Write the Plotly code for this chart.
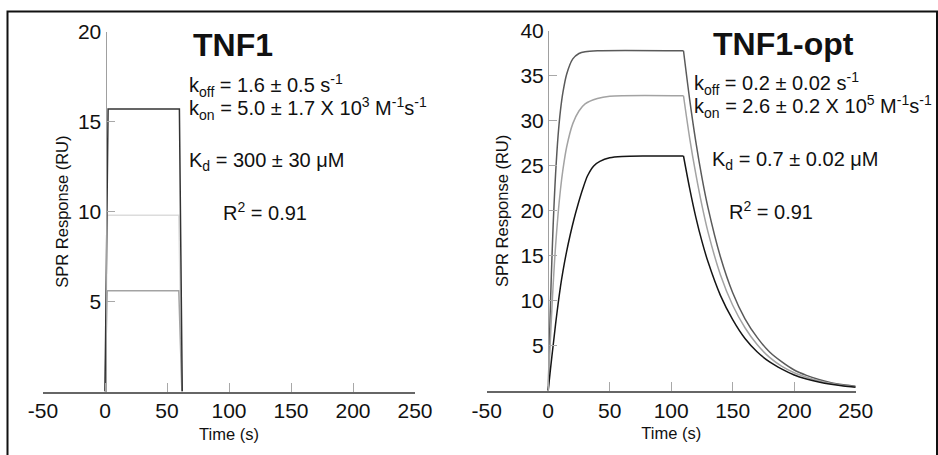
import plotly.graph_objects as go

# ---------------- data ----------------
# Left panel: TNF1 (square-pulse fits)
tnf1_dark_t = [0, 2.5, 60, 62.3]
tnf1_dark_v = [0, 15.7, 15.7, 0]
tnf1_light_t = [0, 2, 59.5, 62]
tnf1_light_v = [0, 9.8, 9.8, 0]
tnf1_mid_t = [0, 1.8, 59.5, 62]
tnf1_mid_v = [0, 5.6, 5.6, 0]

# Right panel: TNF1-opt association phase (0-110 s)
opt_top_rise_t = [0, 1, 2, 3, 4, 5, 6, 8, 10, 12, 15, 20, 25, 30, 40, 110]
opt_top_rise_v = [0, 5.5, 10.4, 14.6, 18.3, 21.4, 24.1, 28.3, 31.2, 33.2, 35.2, 36.9, 37.5, 37.7, 37.8, 37.8]
opt_mid_rise_t = [0, 1, 2, 3, 4, 5, 6, 8, 10, 12, 15, 20, 25, 30, 40, 50, 110]
opt_mid_rise_v = [0, 3.2, 6.3, 9.1, 11.7, 14.0, 16.1, 19.6, 22.4, 24.6, 27.1, 29.7, 31.1, 31.9, 32.5, 32.75, 32.8]
opt_low_rise_t = [0, 2, 4, 6, 8, 10, 12, 15, 18, 21, 24, 28, 32, 37, 42, 50, 60, 80, 110]
opt_low_rise_v = [0, 2.6, 5.0, 7.4, 9.6, 11.6, 13.3, 15.5, 17.4, 19.1, 20.6, 22.4, 23.9, 25.0, 25.5, 25.9, 26.05, 26.1, 26.1]

# Right panel: TNF1-opt dissociation phase (110-250 s)
decay_t = [110, 115, 120, 125, 130, 140, 150, 160, 170, 180, 190, 200, 210, 220, 230, 240, 250]
opt_top_decay_v = [37.8, 32.4, 27.7, 23.7, 20.3, 14.9, 10.9, 8.0, 5.9, 4.3, 3.2, 2.3, 1.7, 1.25, 0.9, 0.67, 0.5]
opt_mid_decay_v = [32.8, 28.1, 24.1, 20.6, 17.6, 12.9, 9.5, 7.0, 5.1, 3.7, 2.7, 2.0, 1.5, 1.1, 0.8, 0.58, 0.43]
opt_low_decay_v = [26.1, 22.5, 19.3, 16.6, 14.3, 10.6, 7.9, 5.8, 4.3, 3.2, 2.4, 1.75, 1.3, 0.96, 0.71, 0.53, 0.39]

x_ticks = [-50, 0, 50, 100, 150, 200, 250]
x_tick_labels = ["-50", "0", "50", "100", "150", "200", "250"]
y_ticks_left = [5, 10, 15, 20]
y_ticks_right = [5, 10, 15, 20, 25, 30, 35, 40]

# ---------------- figure ----------------
W, H = 938, 455
FONT = "Liberation Sans, Arial, Helvetica, sans-serif"
C_TOP, C_MID, C_LOW, C_LIGHT = "#5a5a5a", "#a3a3a3", "#151515", "#dcdcdc"

fig = go.Figure()

def add(x, y, color, xa, ya, shape="linear", width=1.5):
    fig.add_trace(go.Scatter(x=x, y=y, mode="lines", xaxis=xa, yaxis=ya,
                             line=dict(color=color, width=width, shape=shape,
                                       smoothing=0.8 if shape == "spline" else None),
                             showlegend=False, hoverinfo="skip"))

# left panel
add(tnf1_light_t, tnf1_light_v, C_LIGHT, "x", "y")
add(tnf1_mid_t, tnf1_mid_v, C_MID, "x", "y")
add(tnf1_dark_t, tnf1_dark_v, "#333333", "x", "y")

# right panel
for rt, rv, dv, col in [(opt_top_rise_t, opt_top_rise_v, opt_top_decay_v, C_TOP),
                        (opt_mid_rise_t, opt_mid_rise_v, opt_mid_decay_v, C_MID),
                        (opt_low_rise_t, opt_low_rise_v, opt_low_decay_v, C_LOW)]:
    add(rt, rv, col, "x2", "y2", shape="spline")
    add(decay_t, dv, col, "x2", "y2", shape="spline")

def px_x(p):
    return p / W

def px_y(p):
    return 1 - p / H

tickfont = dict(family=FONT, size=21, color="#111111")
titlefont = dict(family=FONT, size=16.5, color="#111111")

xcommon = dict(range=[-50, 250], tickvals=x_ticks, ticktext=x_tick_labels,
               ticks="inside", ticklen=9, automargin=False,
               tickcolor="#a8a8a8", tickwidth=1, showline=True, linecolor="#666666",
               linewidth=1.5, showgrid=False, zeroline=False, tickfont=tickfont,
               title=dict(text="Time (s)", font=titlefont, standoff=7))

ycommon = dict(anchor="free", ticks="inside", ticklen=8, automargin=False,
               tickcolor="#a8a8a8", tickwidth=1, showline=True, linecolor="#a0a0a0",
               linewidth=1, showgrid=False, zeroline=False, tickfont=tickfont)

fig.update_layout(
    width=W, height=H, autosize=False,
    margin=dict(l=0, r=0, t=0, b=0),
    paper_bgcolor="white", plot_bgcolor="white",
    xaxis=dict(domain=[px_x(43), px_x(415)], anchor="y", **xcommon),
    xaxis2=dict(domain=[px_x(486.7), px_x(855.7)], anchor="y2", **xcommon),
    yaxis=dict(domain=[px_y(391.5), px_y(31.7)], range=[0, 20], tickvals=y_ticks_left,
               position=px_x(105.5),
               title=dict(text="SPR Response (RU)", font=titlefont, standoff=4), **ycommon),
    yaxis2=dict(domain=[px_y(390.7), px_y(31)], range=[0, 40], tickvals=y_ticks_right,
                position=px_x(548),
                title=dict(text="SPR Response (RU)", font=titlefont, standoff=6), **ycommon),
)

# frame around the figure
fig.add_shape(type="rect", xref="paper", yref="paper",
              x0=px_x(7.5), x1=px_x(937), y0=-0.1, y1=px_y(11.5),
              line=dict(color="#111111", width=2), fillcolor="rgba(0,0,0,0)")

txt = dict(family=FONT, size=20, color="#111111")
big = dict(family=FONT, size=32, color="#111111", weight="bold")

def note(text, x, y, font):
    fig.add_annotation(text=text, xref="paper", yref="paper", x=px_x(x), y=px_y(y),
                       xanchor="left", yanchor="middle", showarrow=False, font=font)

# left panel texts
note("<b>TNF1</b>", 191, 45, big)
note("k<sub>off</sub> = 1.6 ± 0.5 s<sup>-1</sup>", 187, 85, txt)
note("k<sub>on</sub> = 5.0 ± 1.7 X 10<sup>3</sup> M<sup>-1</sup>s<sup>-1</sup>", 187, 108, txt)
note("K<sub>d</sub> = 300 ± 30 μM", 187, 161, txt)
note("R<sup>2</sup> = 0.91", 221, 211, txt)

# right panel texts
note("<b>TNF1-opt</b>", 711, 44, big)
note("k<sub>off</sub> = 0.2 ± 0.02 s<sup>-1</sup>", 692, 83, txt)
note("k<sub>on</sub> = 2.6 ± 0.2 X 10<sup>5</sup> M<sup>-1</sup>s<sup>-1</sup>", 692, 106, txt)
note("K<sub>d</sub> = 0.7 ± 0.02 μM", 710, 160, txt)
note("R<sup>2</sup> = 0.91", 727, 210, txt)

fig.write_html("out.html")
